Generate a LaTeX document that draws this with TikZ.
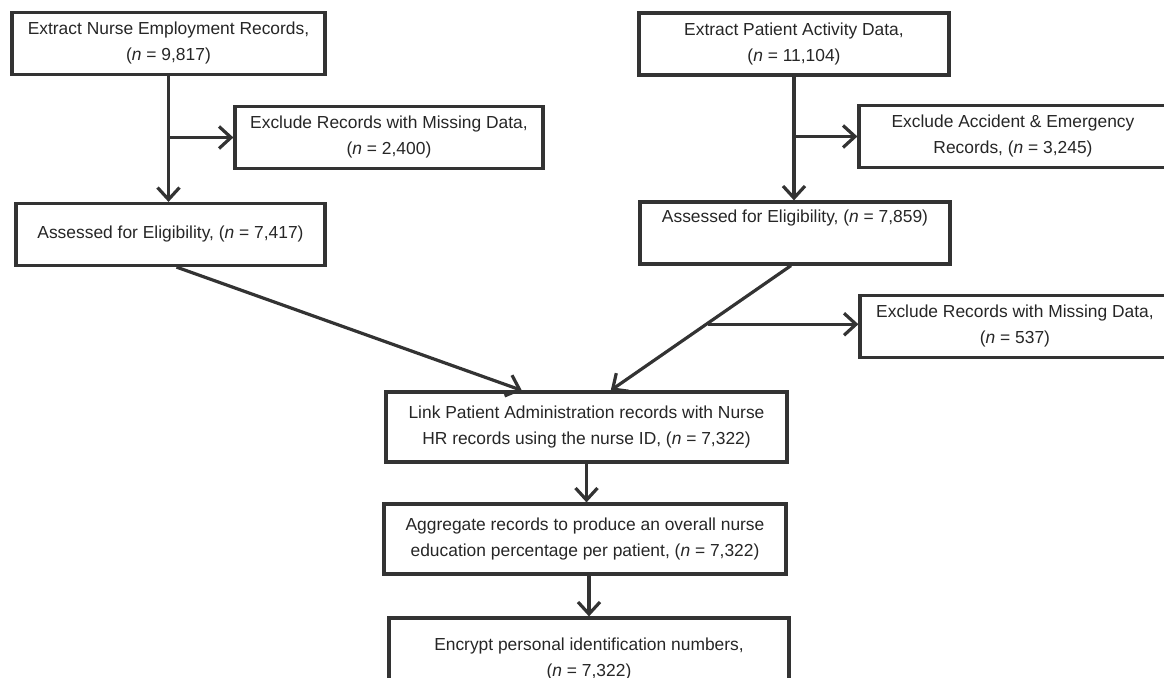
\documentclass[tikz,border=0pt]{standalone}
\usepackage{fontspec}
\setmainfont{Liberation Sans}
\usepackage{tikz}
\usetikzlibrary{arrows.meta, calc}
\definecolor{boxgray}{HTML}{333333}
\tikzset{recbox/.style={draw=boxgray, line width=1.6pt, minimum width=#1, minimum height=31pt, inner sep=0pt, align=center, text=black!85, font=\fontsize{8.7}{13}\selectfont}}
\tikzset{flow/.style={draw=boxgray, line width=1.6pt, -{Straight Barb[length=6pt, width=11pt]}}}
\newcommand{\ncount}[1]{(\textit{n} = #1)}

\begin{document}
\begin{tikzpicture}[x=0.5pt, y=-0.5pt]
\useasboundingbox (0,0) rectangle (1164,678);
\clip (0,0) rectangle (1164,678);
\node[recbox=156.5pt] (nurse) at (168.5,43.5) {Extract Nurse Employment Records,\\ \ncount{9,817}};
\node[recbox=154pt] (nmiss) at (389,137.5) {Exclude Records with Missing Data,\\ \ncount{2,400}};
\node[recbox=154.5pt] (nelig) at (170.5,234.5) {Assessed for Eligibility, \ncount{7,417}};
\node[recbox=155pt] (patient) at (794,44) {Extract Patient Activity Data,\\ \ncount{11,104}};
\node[recbox=154pt] (pae) at (1013,136.5) {Exclude Accident \& Emergency\\ Records, \ncount{3,245}};
\node[recbox=155pt] (pelig) at (795,233) {Assessed for Eligibility, \ncount{7,859}\\ \strut};
\node[recbox=155pt] (pmiss) at (1015,326.5) {Exclude Records with Missing Data,\\ \ncount{537}};
\node[recbox=200.5pt, minimum height=35pt] (link) at (586.5,427) {Link Patient Administration records with Nurse\\ HR records using the nurse ID, \ncount{7,322}};
\node[recbox=201pt, minimum height=35pt] (aggr) at (585,539) {Aggregate records to produce an overall nurse\\ education percentage per patient, \ncount{7,322}};
\node[recbox=200pt, minimum height=41pt] (encr) at (589,659) {Encrypt personal identification numbers,\\ \ncount{7,322}};
\coordinate (linkl) at ($(link.north west)!0.34!(link.north east)$);
\coordinate (linkr) at ($(link.north west)!0.56!(link.north east)$);
\coordinate (pbr) at ($(pelig.south)!0.47!(linkr)$);
\draw[flow] (nurse.south) -- (nurse.south |- nelig.north);
\draw[flow] (nurse.south |- nmiss.west) -- (nmiss.west);
\draw[flow] (patient.south) -- (patient.south |- pelig.north);
\draw[flow] (patient.south |- pae.west) -- (pae.west);
\draw[flow] ([xshift=3pt]nelig.south) -- (linkl);
\draw[flow] ([xshift=-2pt]pelig.south) -- (linkr);
\draw[flow] (pbr) -- (pbr -| pmiss.west);
\draw[flow] (link.south) -- (link.south |- aggr.north);
\draw[flow] ([xshift=2pt]aggr.south) -- ([xshift=2pt]aggr.south |- encr.north);
\end{tikzpicture}
\end{document}
